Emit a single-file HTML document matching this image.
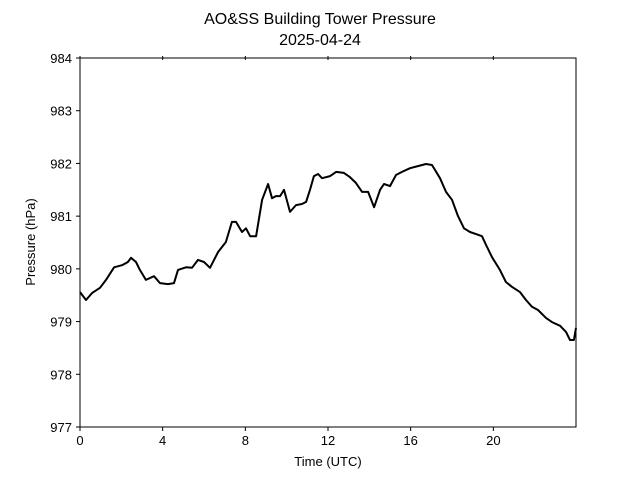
<!DOCTYPE html>
<html><head><meta charset="utf-8"><style>
body{margin:0;background:#fff;}
svg text{font-family:"Liberation Sans","DejaVu Sans",sans-serif;}
</style></head><body>
<svg id="chart" width="640" height="480" xmlns="http://www.w3.org/2000/svg">
<rect width="640" height="480" fill="#fff"/>
<text x="320" y="24" font-size="16" text-anchor="middle">AO&amp;SS Building Tower Pressure</text>
<text x="320" y="45" font-size="16" text-anchor="middle">2025-04-24</text>
<g id="axes"></g>
<text x="328" y="466" font-size="13" text-anchor="middle">Time (UTC)</text>
<text transform="translate(35,242) rotate(-90)" font-size="13" text-anchor="middle">Pressure (hPa)</text>
</svg>
<script>
const hours=[0,0.29,0.58,0.97,1.26,1.65,2.03,2.32,2.47,2.71,2.90,3.19,3.58,3.87,4.26,4.55,4.74,5.13,5.42,5.71,6.00,6.29,6.68,7.06,7.35,7.55,7.84,8.03,8.23,8.52,8.81,9.10,9.29,9.48,9.68,9.87,10.16,10.45,10.74,10.94,11.13,11.32,11.52,11.71,12.10,12.39,12.77,13.06,13.35,13.65,13.94,14.23,14.52,14.71,15.00,15.29,15.58,15.97,16.35,16.74,17.03,17.42,17.71,18.00,18.29,18.58,18.87,19.16,19.45,19.65,19.94,20.32,20.61,20.90,21.29,21.58,21.87,22.16,22.55,22.84,23.23,23.52,23.71,23.90,24.0];
const pressure=[979.56,979.41,979.54,979.64,979.79,980.03,980.07,980.13,980.21,980.13,979.98,979.79,979.86,979.73,979.71,979.73,979.98,980.03,980.02,980.17,980.13,980.02,980.32,980.51,980.89,980.89,980.70,980.77,980.62,980.62,981.31,981.61,981.34,981.38,981.38,981.50,981.08,981.21,981.23,981.27,981.50,981.76,981.80,981.72,981.76,981.84,981.82,981.74,981.63,981.46,981.46,981.17,981.50,981.61,981.57,981.78,981.84,981.91,981.95,981.99,981.97,981.72,981.46,981.31,981.00,980.77,980.70,980.66,980.62,980.45,980.22,979.98,979.75,979.66,979.56,979.41,979.28,979.22,979.07,978.99,978.92,978.80,978.65,978.65,978.88];
const xTicks=[0,4,8,12,16,20];
const xTickLabels=["0","4","8","12","16","20"];
const yTicks=[977,978,979,980,981,982,983,984];
const yTickLabels=["977","978","979","980","981","982","983","984"];
const L=80,R=576,T=58,B=427,X0=0,X1=24,Y0=977,Y1=984;
const sx=v=>L+(v-X0)/(X1-X0)*(R-L);
const sy=v=>B-(v-Y0)/(Y1-Y0)*(B-T);
const NS="http://www.w3.org/2000/svg";
const g=document.getElementById('axes');
function mk(t,a){const e=document.createElementNS(NS,t);for(const k in a)e.setAttribute(k,a[k]);g.appendChild(e);return e;}
const frame=mk('rect',{x:L,y:T,width:R-L,height:B-T,fill:'none',stroke:'#000','stroke-width':1});


xTicks.forEach((v,i)=>{
  const t=mk('line',{x1:sx(v),x2:sx(v),y1:B,y2:B+4,stroke:'#000'});
  
  
  const t2=mk('line',{x1:sx(v),x2:sx(v),y1:T-2,y2:T+2,stroke:'#000'});
  
  
  const l=mk('text',{x:sx(v),y:B+18,'font-size':13,'text-anchor':'middle'});
  l.textContent=xTickLabels[i];
  
  
});
yTicks.forEach((v,i)=>{
  const t=mk('line',{x1:L-4,x2:L,y1:sy(v),y2:sy(v),stroke:'#000'});
  
  
  const l=mk('text',{x:L-8,y:sy(v)+5,'font-size':13,'text-anchor':'end'});
  l.textContent=yTickLabels[i];
  
  
});
const d=hours.map((h,i)=>(i?'L':'M')+sx(h).toFixed(1)+','+sy(pressure[i]).toFixed(1)).join('');
const line=mk('path',{d:d,fill:'none',stroke:'#000','stroke-width':2,'stroke-linejoin':'round'});


</script>
</body></html>
